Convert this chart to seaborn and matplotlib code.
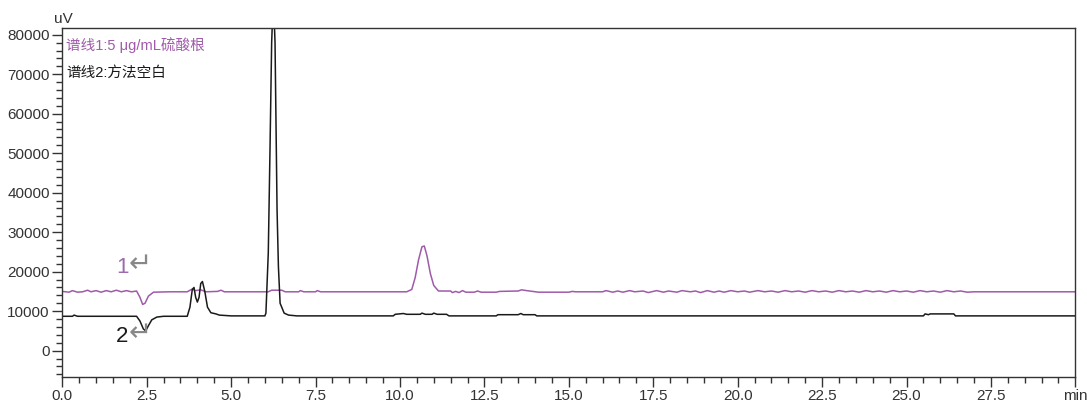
import numpy as np
import pandas as pd
import seaborn as sns
import matplotlib.pyplot as plt

# Trace 1: 5 ug/mL sulfate standard (time in min, signal in uV)
t1 = [0.0, 0.2, 0.3, 0.45, 0.6, 0.75, 0.85, 1.0, 1.15, 1.3, 1.45, 1.6, 1.75, 1.9, 2.05, 2.2,
      2.3, 2.38, 2.45, 2.55, 2.7, 3.2, 3.7, 3.85, 3.95, 4.1, 4.25, 4.6, 4.7, 4.8, 6.1, 6.2,
      6.5, 6.6, 7.0, 7.05, 7.15, 7.5, 7.55, 7.65, 10.2, 10.35, 10.45, 10.55, 10.65, 10.72,
      10.8, 10.9, 11.0, 11.14, 11.5, 11.55, 11.65, 11.75, 11.85, 11.95, 12.2, 12.3, 12.4,
      12.85, 12.95, 13.5, 13.6, 13.75, 14.1, 15.0, 15.1, 15.2, 16.0, 16.1, 16.3, 16.45,
      16.6, 16.8, 16.95, 17.2, 17.35, 17.6, 17.8, 17.95, 18.2, 18.35, 18.6, 18.75, 18.9,
      19.1, 19.3, 19.45, 19.6, 19.8, 20.0, 20.2, 20.35, 20.6, 20.8, 21.0, 21.2, 21.4, 21.6,
      21.8, 22.0, 22.2, 22.4, 22.6, 22.8, 23.0, 23.2, 23.4, 23.6, 23.8, 24.0, 24.2, 24.4,
      24.6, 24.8, 25.0, 25.2, 25.4, 25.6, 25.8, 26.0, 26.2, 26.4, 26.6, 26.8, 27.0, 30.0]
y1 = [15000, 14800, 15200, 14800, 14900, 15300, 14900, 15200, 14800, 15200, 14900, 15300, 14900, 15200, 14900, 15100,
      13500, 11700, 12000, 13800, 14800, 14900, 14900, 15600, 15200, 15400, 14900, 15000, 15300, 14900, 14900, 15300,
      15300, 14900, 14900, 15200, 14900, 14900, 15200, 14900, 14900, 15500, 18500, 23000, 26300, 26500,
      24000, 19500, 16500, 15100, 15100, 14700, 15000, 14700, 15200, 14800, 14800, 15100, 14800,
      14800, 15000, 15100, 15400, 15200, 14800, 14800, 15000, 14900, 14900, 15200, 14800, 15100,
      14800, 15200, 14900, 15100, 14700, 15200, 14800, 15100, 14800, 15200, 14900, 15100, 14700,
      15200, 14800, 15100, 14800, 15200, 14900, 15100, 14800, 15200, 14900, 15100, 14800, 15200, 14900,
      15100, 14800, 15200, 14900, 15100, 14800, 15200, 14900, 15100, 14800, 15200, 14900, 15100, 14800,
      15200, 14900, 15100, 14800, 15200, 14900, 15100, 14800, 15200, 14900, 15100, 14800, 14900, 14900]

# Trace 2: method blank
t2 = [0.0, 0.3, 0.35, 0.45, 2.2, 2.3, 2.4, 2.47, 2.55, 2.65, 2.8, 3.0, 3.7, 3.78, 3.85, 3.9,
      3.95, 4.0, 4.05, 4.1, 4.15, 4.22, 4.3, 4.4, 4.55, 4.65, 5.0, 6.0, 6.03, 6.1, 6.15, 6.2,
      6.25, 6.3, 6.33, 6.36, 6.4, 6.45, 6.57, 6.7, 6.95, 9.8, 9.86, 10.1, 10.2, 10.6, 10.65,
      10.75, 10.95, 11.0, 11.1, 11.38, 11.45, 12.85, 12.9, 13.5, 13.58, 13.65, 14.0, 14.05,
      25.5, 25.55, 25.65, 25.7, 26.4, 26.45, 30.0]
y2 = [8700, 8700, 9000, 8700, 8700, 7500, 5500, 5000, 6300, 7800, 8500, 8700, 8700, 11000, 15500, 16000,
      13500, 12300, 13500, 17000, 17500, 15000, 11000, 9600, 9300, 9000, 8800, 8800, 9500, 24700, 50400, 78000,
      90000, 78000, 56700, 35600, 21300, 12000, 9500, 9000, 8800, 8800, 9200, 9400, 9200, 9200, 9500,
      9200, 9200, 9500, 9200, 9200, 8800, 8800, 9100, 9100, 9400, 9100, 9100, 8800,
      8800, 9300, 9100, 9300, 9300, 8800, 8800]

trace1 = pd.DataFrame({"min": t1, "uV": y1})
trace2 = pd.DataFrame({"min": t2, "uV": y2})

purple = "#A05AAA"
sns.set_theme(style="ticks")
plt.rcParams["font.family"] = ["Liberation Sans", "Noto Sans CJK SC", "DejaVu Sans"]

fig = plt.figure(figsize=(10.87, 4.15), dpi=100)
ax = fig.add_axes([0.0573, 0.0923, 0.932, 0.8402])

sns.lineplot(data=trace1, x="min", y="uV", ax=ax, color=purple, lw=1.1, estimator=None, sort=False)
sns.lineplot(data=trace2, x="min", y="uV", ax=ax, color="#1a1a1a", lw=1.1, estimator=None, sort=False)

ax.set_xlim(0, 30)
ax.set_ylim(-6600, 81700)
ax.set_xlabel("")
ax.set_ylabel("")

xt = np.arange(0, 30.01, 2.5)
ax.set_xticks(xt)
ax.set_xticklabels([f"{v:.1f}" for v in xt[:-1]] + ["min"])
ax.set_xticks(np.arange(0, 30.01, 0.5), minor=True)
ax.set_yticks(np.arange(0, 80001, 10000))
ax.set_yticks(np.arange(-6000, 81000, 2000), minor=True)

ax.tick_params(axis="both", which="major", length=7, width=1, color="#333333",
               labelsize=11, labelcolor="#333333", pad=2)
ax.tick_params(axis="both", which="minor", length=4, width=1, color="#333333")
for s in ax.spines.values():
    s.set_visible(True)
    s.set_color("#333333")
    s.set_linewidth(1)

ax.text(-0.008, 1.005, "uV", transform=ax.transAxes, fontsize=11, color="#333333",
        ha="left", va="bottom")

ax.text(0.004, 0.951, "谱线1:5 μg/mL硫酸根", transform=ax.transAxes, fontsize=10.5,
        color=purple, ha="left", va="center")
ax.text(0.004, 0.871, "谱线2:方法空白", transform=ax.transAxes, fontsize=10.5,
        color="#1a1a1a", ha="left", va="center")

# trace markers
ax.text(1.6, 21000, "1", fontsize=16, color="#9E6AAE", ha="left", va="center")
ax.text(1.98, 22000, "↵", fontsize=20, family="DejaVu Sans", color="#888888", ha="left", va="center")
ax.text(1.6, 3500, "2", fontsize=16, color="#1a1a1a", ha="left", va="center")
ax.text(1.98, 4400, "↵", fontsize=20, family="DejaVu Sans", color="#888888", ha="left", va="center")

fig.savefig("out.png", dpi=100)
